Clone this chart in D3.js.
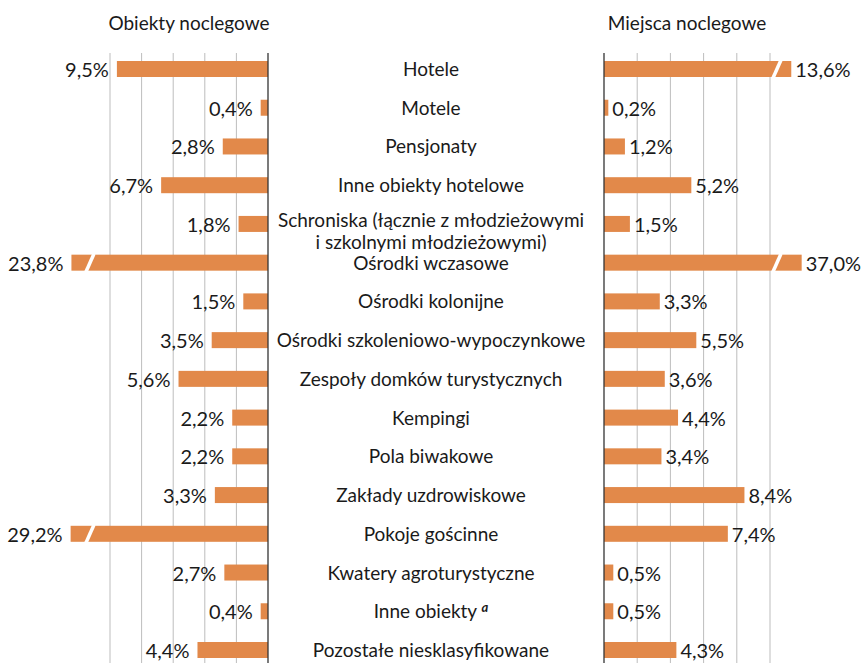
<!DOCTYPE html>
<html>
<head>
<meta charset="utf-8">
<script src="https://cdn.jsdelivr.net/npm/d3@7"></script>
<style>
  body { margin: 0; background: #fff; }
  text { font-family: Lato, "Open Sans", sans-serif; fill: #1a1a1a; }
</style>
</head>
<body>
<div id="chart"></div>
<script>
// categories and the two series (share in %)
var categories = ["Hotele", "Motele", "Pensjonaty", "Inne obiekty hotelowe", "Schroniska",
  "Ośrodki wczasowe", "Ośrodki kolonijne", "Ośrodki szkoleniowo-wypoczynkowe",
  "Zespoły domków turystycznych", "Kempingi", "Pola biwakowe", "Zakłady uzdrowiskowe",
  "Pokoje gościnne", "Kwatery agroturystyczne", "Inne obiekty", "Pozostałe niesklasyfikowane"];
var obiekty = [9.5, 0.4, 2.8, 6.7, 1.8, 23.8, 1.5, 3.5, 5.6, 2.2, 2.2, 3.3, 29.2, 2.7, 0.4, 4.4];
var miejsca = [13.6, 0.2, 1.2, 5.2, 1.5, 37.0, 3.3, 5.5, 3.6, 4.4, 3.4, 8.4, 7.4, 0.5, 0.5, 4.3];
var gridTicks = [0, 2, 4, 6, 8, 10];
var titles = ["Obiekty noclegowe", "Miejsca noclegowe"];

var width = 864, height = 663;
var barH = 16;
var barColor = "#e2894a";
var fs = 19;      // category labels and titles
var fsVal = 20;   // percentage labels

var svg = d3.select("#chart").append("svg")
    .attr("width", width)
    .attr("height", height);

var y = d3.scalePoint()
    .domain(categories)
    .range([69, 650]);

// values over 10% are squeezed (bars drawn broken)
var xL = d3.scaleLinear().domain([0, 10, 20, 40]).range([268, 110, 73, 70]);
var xR = d3.scaleLinear().domain([0, 10, 13, 40]).range([604, 770, 790, 802]);

var fmt = function(v) { return d3.format(".1f")(v).replace(".", ",") + "%"; };

function panel(x, data, side, title, breakX) {
  var g = svg.append("g");

  // grid
  g.selectAll("line.grid")
    .data(gridTicks.slice(1))
    .enter().append("line")
      .attr("x1", d => x(d)).attr("x2", d => x(d))
      .attr("y1", 53).attr("y2", height)
      .attr("stroke", "#bdbdbd")
      .attr("stroke-width", 1);

  g.selectAll("rect")
    .data(data)
    .enter().append("rect")
      .attr("x", d => Math.min(x(0), x(d)) - (side < 0 ? 1 : 0))
      .attr("width", d => Math.abs(x(d) - x(0)) + 1)
      .attr("y", (d, i) => y(categories[i]) - barH / 2)
      .attr("height", barH)
      .attr("fill", barColor);

  // break marks
  g.selectAll("line.brk")
    .data(data.map((d, i) => ({v: d, c: categories[i]})).filter(d => d.v > 10))
    .enter().append("line")
      .attr("x1", breakX - 4).attr("x2", breakX + 4)
      .attr("y1", d => y(d.c) + barH / 2 + 1)
      .attr("y2", d => y(d.c) - barH / 2 - 1)
      .attr("stroke", "#fff")
      .attr("stroke-width", 3.5);

  // axis line
  g.append("line")
    .attr("x1", x(0)).attr("x2", x(0))
    .attr("y1", 53).attr("y2", height)
    .attr("stroke", "#333")
    .attr("stroke-width", 1.3);

  g.selectAll("text.val")
    .data(data)
    .enter().append("text")
      .attr("x", d => side < 0 ? x(d) - 9 : x(d) + 5)
      .attr("y", (d, i) => y(categories[i]) + 8)
      .attr("text-anchor", side < 0 ? "end" : "start")
      .style("font-size", fsVal + "px")
      .text(fmt);

  g.append("text")
    .attr("x", (x(0) + x(10)) / 2)
    .attr("y", 30)
    .attr("text-anchor", "middle")
    .style("font-size", fs + "px")
    .text(title);
}

panel(xL, obiekty, -1, titles[0], xL(10) - 20);
panel(xR, miejsca, 1, titles[1], xR(10) + 7);

// category labels in the middle
var cx = 431;
var lab = svg.append("g").selectAll("text")
  .data(categories)
  .enter().append("text")
    .attr("x", cx)
    .attr("y", d => y(d) + 7)
    .attr("text-anchor", "middle")
    .style("font-size", fs + "px");

lab.each(function(d) {
  var t = d3.select(this);
  if (d === "Schroniska") {
    t.attr("y", y(d) + 3);
    t.append("tspan").attr("x", cx).text("Schroniska (łącznie z młodzieżowymi");
    t.append("tspan").attr("x", cx).attr("dy", 22).text("i szkolnymi młodzieżowymi)");
  } else if (d === "Inne obiekty") {
    t.append("tspan").text(d + " ");
    t.append("tspan").attr("dy", -6).style("font-size", "13px")
      .style("font-style", "italic").style("font-weight", "bold").text("a");
  } else {
    t.text(d);
  }
});
</script>
</body>
</html>
